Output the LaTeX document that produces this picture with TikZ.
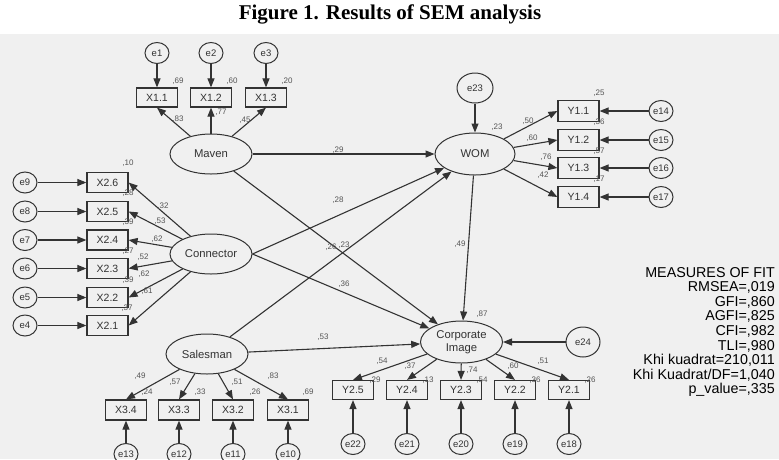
\documentclass[tikz,border=0pt]{standalone}
\usepackage{fontspec}
\setmainfont{Liberation Serif}
\newfontfamily\arialf{Liberation Sans}
\usetikzlibrary{shapes.geometric,arrows.meta}
\definecolor{bg}{HTML}{F0F0F0}
\definecolor{ink}{HTML}{333333}
\definecolor{labc}{HTML}{555555}
\begin{document}
\begin{tikzpicture}[x=1pt,y=-1pt,
  lat/.style={draw=ink,ellipse,line width=1pt,minimum width=82pt,minimum height=40pt,inner sep=0pt,font=\arialf\fontsize{11.3}{13}\selectfont,text=ink,align=center},
  err/.style={draw=ink,ellipse,line width=1pt,minimum width=24pt,minimum height=21pt,inner sep=0pt,font=\arialf\fontsize{9.5}{10}\selectfont,text=ink},
  bigerr/.style={err,minimum width=36pt,minimum height=30pt},
  obs/.style={draw=ink,rectangle,line width=1.2pt,minimum width=41pt,minimum height=20pt,inner sep=0pt,font=\arialf\fontsize{10.5}{12}\selectfont,text=ink},
  arr/.style={draw=ink,line width=1.1pt,-{Triangle[length=9pt,width=7pt]}},
  lab/.style={font=\arialf\fontsize{8}{9}\selectfont,text=labc,inner sep=0pt},
  fitt/.style={font=\arialf\fontsize{14.3}{15}\selectfont,text=black,inner sep=0pt,anchor=base east},
]
\clip (0,0) rectangle (779,459);
\fill[white] (0,0) rectangle (779,34);
\fill[bg] (0,34) rectangle (779,459);
\node[font=\bfseries\fontsize{21}{23}\selectfont,inner sep=0pt] (title) at (390,14) {Figure 1. Results of SEM analysis};

% latent variables
\node[lat] (mav) at (211,154) {Maven};
\node[lat] (con) at (211,254) {Connector};
\node[lat] (sal) at (207,354) {Salesman};
\node[lat,minimum width=80pt,minimum height=42pt] (wom) at (475,154) {WOM};
\node[lat,minimum height=42pt] (ci) at (461.5,342) {Corporate\\Image};
\node[bigerr] (e23) at (475,88) {e23};
\node[bigerr,minimum width=34pt] (e24) at (583,342) {e24};

% X1
\foreach \i/\x in {1/157,2/211,3/266}{
  \node[obs,minimum height=19pt] (x1\i) at (\x,97.5) {X1.\i};
  \node[err] (e\i) at (\x,53) {e\i};
  \draw[arr] (e\i) -- (x1\i);
  \draw[arr] (mav) -- (x1\i.south);
}
% X2
\foreach \i/\y/\e in {6/182.5/9,5/211.5/8,4/240/7,3/268.5/6,2/297.5/5,1/325.5/4}{
  \node[obs] (x2\i) at (107.5,\y) {X2.\i};
  \node[err] (e\e) at (25,\y) {e\e};
  \draw[arr] (e\e) -- (x2\i);
  \draw[arr] (con) -- (x2\i.east);
}
% X3
\foreach \i/\x/\e in {4/126/13,3/179/12,2/233/11,1/288/10}{
  \node[obs] (x3\i) at (\x,410) {X3.\i};
  \node[err] (e\e) at (\x,454) {e\e};
  \draw[arr] (e\e) -- (x3\i);
  \draw[arr] (sal) -- (x3\i.north);
}
% Y1
\foreach \i/\y/\e in {1/111/14,2/140/15,3/168/16,4/197/17}{
  \node[obs,minimum height=21pt] (y1\i) at (578.5,\y) {Y1.\i};
  \node[err] (e\e) at (661,\y) {e\e};
  \draw[arr] (e\e) -- (y1\i);
  \draw[arr] (wom) -- (y1\i.west);
}
% Y2
\foreach \i/\x/\e in {5/353/22,4/407/21,3/461/20,2/515/19,1/569/18}{
  \node[obs,minimum height=19pt] (y2\i) at (\x,390) {Y2.\i};
  \node[err] (e\e) at (\x,444) {e\e};
  \draw[arr] (e\e) -- (y2\i);
  \draw[arr] (ci) -- (y2\i.north);
}

% structural paths
\draw[arr] (e23) -- (wom);
\draw[arr] (e24) -- (ci);
\draw[arr] (mav) -- (wom);
\draw[arr] (con.east) -- (wom);
\draw[arr] (sal) -- (wom);
\draw[arr] (mav) -- (ci);
\draw[arr] (con.east) -- (ci);
\draw[arr] (sal) -- (ci);
\draw[arr] (wom) -- (ci);

% labels
\foreach \t/\x/\y [count=\k] in {
  69/178/81, 60/232/81, 20/287/81, 83/178/119, 77/221/112, 45/245/120,
  29/338/150, 28/338/200, 26/331/247, 23/344/245, 36/344/284, 53/323/337, 49/460/244, 23/497/127, 87/482/314,
  25/599/93, 36/599/122, 57/599/151, 17/599/179, 50/528/121, 60/532/138, 76/546/157, 42/543/175,
  10/128/163, 28/128/193, 39/128/222, 27/128/251, 39/128/280, 37/127/308,
  32/163/206, 53/160/221, 62/157/239, 52/143/257, 62/144/274, 61/147/291,
  49/140/376, 24/147/392, 57/175/382, 33/200/392, 51/237/382, 26/255/392, 83/273/376, 69/308/392,
  54/382/361, 29/375/380, 37/410/366, 13/428/380, 74/472/370, 54/482/380, 60/513/366, 36/535/380, 51/543/361, 26/590/380}{
  \node[lab] (lab\k) at (\x,\y) {,\t};
}

% measures of fit
\node[fitt] (m1) at (775,277) {MEASURES OF FIT};
\node[fitt] (m2) at (775,291.6) {RMSEA=,019};
\node[fitt] (m3) at (775,306.2) {GFI=,860};
\node[fitt] (m4) at (775,320.8) {AGFI=,825};
\node[fitt] (m5) at (775,335.4) {CFI=,982};
\node[fitt] (m6) at (775,350) {TLI=,980};
\node[fitt] (m7) at (775,364.6) {Khi kuadrat=210,011};
\node[fitt] (m8) at (775,379.2) {Khi Kuadrat/DF=1,040};
\node[fitt] (m9) at (775,393.8) {p\_value=,335};
\end{tikzpicture}
\end{document}
